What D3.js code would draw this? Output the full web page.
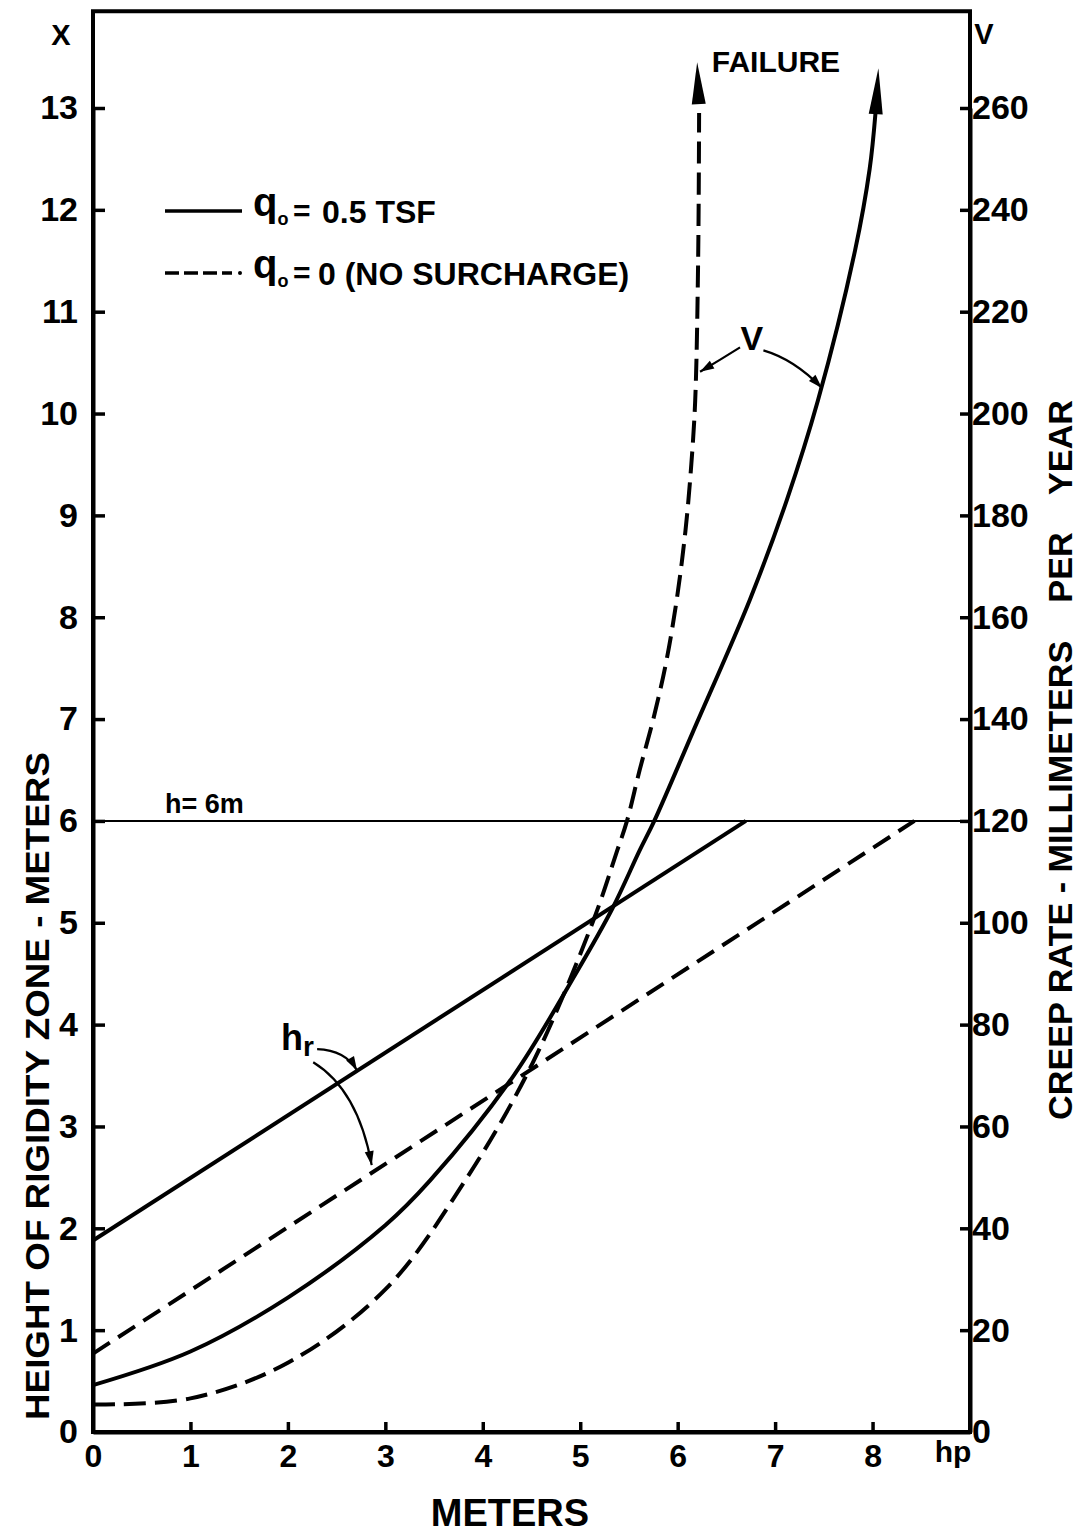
<!DOCTYPE html>
<html>
<head>
<meta charset="utf-8">
<script src="https://cdn.jsdelivr.net/npm/d3@7"></script>
<style>
body { margin: 0; background: #fff; }
text { font-family: "Liberation Sans", Arial, sans-serif; font-weight: bold; fill: #000; }
</style>
</head>
<body>
<svg id="chart"></svg>
<script>
// tick labels
var hpTicks = [0, 1, 2, 3, 4, 5, 6, 7, 8];
var xTicks = [0, 1, 2, 3, 4, 5, 6, 7, 8, 9, 10, 11, 12, 13];
var vTicks = [0, 20, 40, 60, 80, 100, 120, 140, 160, 180, 200, 220, 240, 260];

// creep rate curves (read in left-axis units, V = 20 * X)
var solidVx = [0, 1, 2, 3, 3.46, 4.31, 4.96, 5.33, 5.61, 5.76, 6.15, 6.74, 7.12, 7.44, 7.82, 7.97, 8.03];
var solidVy = [0.46, 0.79, 1.32, 2.03, 2.47, 3.49, 4.51, 5.14, 5.71, 6.0, 6.86, 8.17, 9.15, 10.13, 11.6, 12.4, 12.95];
var dashVx = [0, 1, 2, 3, 3.82, 4.51, 5.13, 5.38, 5.48, 5.61, 5.75, 5.88, 5.99, 6.08, 6.14, 6.18, 6.21, 6.22];
var dashVy = [0.27, 0.33, 0.68, 1.40, 2.47, 3.62, 5.01, 5.71, 6.0, 6.5, 7.0, 7.55, 8.17, 8.85, 9.5, 10.13, 11.5, 12.95];

// height of rigidity zone lines
var solidHrX = [0, 6.7];
var solidHrY = [1.88, 6.0];
var dashHrX = [0, 8.43];
var dashHrY = [0.77, 6.0];

var hLimit = 6;

var width = 1088,
    height = 1535;

var svg = d3.select("#chart").attr("width", width).attr("height", height);

var x = d3.scaleLinear().domain([0, 9]).range([93, 970]);
var y = d3.scaleLinear().domain([0, 13]).range([1432, 108]);
var v = d3.scaleLinear().domain([0, 260]).range([1432, 108]);

// frame
svg.append("rect")
	.attr("x", x(0)).attr("y", y(13.95))
	.attr("width", x(9) - x(0)).attr("height", y(0) - y(13.95))
	.attr("fill", "none").attr("stroke", "#000").attr("stroke-width", 4);

// axes
var left = svg.append("g").attr("transform", "translate(" + x(0) + ",0)")
	.call(d3.axisLeft(y).tickValues(xTicks).tickSizeInner(-12).tickSizeOuter(0).tickPadding(15));
var right = svg.append("g").attr("transform", "translate(" + x(9) + ",0)")
	.call(d3.axisRight(v).tickValues(vTicks).tickSizeInner(-10).tickSizeOuter(0).tickPadding(2));
var bottom = svg.append("g").attr("transform", "translate(0," + y(0) + ")")
	.call(d3.axisBottom(x).tickValues(hpTicks).tickSizeInner(-10).tickSizeOuter(0).tickPadding(12));

[left, right, bottom].forEach(function(g) {
	g.select(".domain").attr("stroke-width", 4);
	g.selectAll(".tick line").attr("stroke-width", 3.5);
	g.selectAll(".tick text").style("font-family", "'Liberation Sans', Arial, sans-serif").style("font-weight", "bold");
});
left.selectAll(".tick text").style("font-size", "34px");
right.selectAll(".tick text").style("font-size", "34px");
bottom.selectAll(".tick text").style("font-size", "32px");
left.selectAll(".tick").filter(function(d) { return d == 0; }).select("line").remove();
right.selectAll(".tick").filter(function(d) { return d == 0; }).select("line").remove();
bottom.selectAll(".tick").filter(function(d) { return d == 0; }).select("line").remove();

// axis letters
svg.append("text").text("X").attr("x", 61).attr("y", 45).attr("text-anchor", "middle").style("font-size", "29px");
svg.append("text").text("V").attr("x", 984).attr("y", 44).attr("text-anchor", "middle").style("font-size", "29px");
svg.append("text").text("hp").attr("x", 953).attr("y", 1462).attr("text-anchor", "middle").style("font-size", "30px");
svg.append("text").text("METERS").attr("x", 510).attr("y", 1526).attr("text-anchor", "middle").style("font-size", "38px");

svg.append("text").text("HEIGHT OF RIGIDITY ZONE - METERS")
	.attr("transform", "translate(49,1086) rotate(-90)")
	.attr("text-anchor", "middle").attr("textLength", 668).attr("lengthAdjust", "spacingAndGlyphs")
	.style("font-size", "33px");
svg.append("text").text("CREEP RATE - MILLIMETERS    PER    YEAR")
	.attr("transform", "translate(1072,760) rotate(-90)")
	.attr("text-anchor", "middle").attr("textLength", 720).attr("lengthAdjust", "spacingAndGlyphs")
	.style("white-space", "pre").style("font-size", "33px");

// h = 6m
svg.append("line")
	.attr("x1", x(0)).attr("x2", x(9)).attr("y1", y(hLimit)).attr("y2", y(hLimit))
	.attr("stroke", "#000").attr("stroke-width", 2);
svg.append("text").text("h= 6m").attr("x", x(0.74)).attr("y", y(hLimit) - 8).style("font-size", "27px");

function pts(xs, ys) {
	return xs.map(function(d, i) { return [x(d), y(ys[i])]; });
}

var line = d3.line().curve(d3.curveCatmullRom.alpha(0.5));

svg.append("path").attr("d", line(pts(solidHrX, solidHrY)))
	.attr("fill", "none").attr("stroke", "#000").attr("stroke-width", 4);
svg.append("path").attr("d", line(pts(dashHrX, dashHrY)))
	.attr("fill", "none").attr("stroke", "#000").attr("stroke-width", 4).attr("stroke-dasharray", "20,10");
svg.append("path").attr("d", line(pts(solidVx, solidVy)))
	.attr("fill", "none").attr("stroke", "#000").attr("stroke-width", 4);
svg.append("path").attr("d", line(pts(dashVx, dashVy)))
	.attr("fill", "none").attr("stroke", "#000").attr("stroke-width", 4).attr("stroke-dasharray", "22,9");

// arrow head: tip and a point behind it give the direction
function head(tip, from, len, half) {
	var dx = tip[0] - from[0], dy = tip[1] - from[1];
	var l = Math.sqrt(dx * dx + dy * dy);
	dx /= l; dy /= l;
	var bx = tip[0] - dx * len, by = tip[1] - dy * len;
	svg.append("path")
		.attr("d", "M" + tip[0] + "," + tip[1] + "L" + (bx - dy * half) + "," + (by + dx * half) +
			"L" + (bx + dy * half) + "," + (by - dx * half) + "Z")
		.attr("fill", "#000");
}

// failure arrows
head([x(8.06), y(13.39)], [x(8.03), y(12.9)], 46, 7);
head([x(6.20), y(13.45)], [x(6.22), y(12.95)], 42, 7);
svg.append("text").text("FAILURE").attr("x", x(6.35)).attr("y", y(13.35)).style("font-size", "30px");

// annotation arrows
var curve = function(a, c, b) {
	return "M" + x(a[0]) + "," + y(a[1]) + "Q" + x(c[0]) + "," + y(c[1]) + " " + x(b[0]) + "," + y(b[1]);
};
function annot(a, c, b) {
	svg.append("path").attr("d", curve(a, c, b)).attr("fill", "none").attr("stroke", "#000").attr("stroke-width", 2.2);
	head([x(b[0]), y(b[1])], [x(c[0]), y(c[1])], 14, 4.5);
}
annot([2.30, 3.76], [2.59, 3.75], [2.71, 3.55]);
annot([2.26, 3.63], [2.72, 3.36], [2.86, 2.62]);
annot([6.64, 10.65], [6.44, 10.53], [6.23, 10.41]);
annot([6.88, 10.62], [7.20, 10.53], [7.48, 10.25]);

var hr = svg.append("text").attr("x", x(1.93)).attr("y", y(3.75)).style("font-size", "36px");
hr.append("tspan").text("h");
hr.append("tspan").text("r").attr("dy", 6).style("font-size", "28px");
svg.append("text").text("V").attr("x", x(6.76)).attr("y", y(10.62)).attr("text-anchor", "middle").style("font-size", "34px");

// legend
var lg = svg.append("g");
lg.append("line").attr("x1", 165).attr("x2", 242).attr("y1", 211).attr("y2", 211).attr("stroke", "#000").attr("stroke-width", 3.5);
lg.append("line").attr("x1", 165).attr("x2", 232).attr("y1", 273).attr("y2", 273).attr("stroke", "#000").attr("stroke-width", 3.5).attr("stroke-dasharray", "14,5");
lg.append("circle").attr("cx", 240).attr("cy", 273).attr("r", 2).attr("fill", "#000");
[["0.5 TSF", 211, 322], ["0 (NO SURCHARGE)", 273, 318]].forEach(function(d) {
	var t = lg.append("text").attr("x", 253).attr("y", d[1] + 5).style("font-size", "40px");
	t.append("tspan").text("q");
	t.append("tspan").text("o").attr("dy", 9).style("font-size", "18px");
	lg.append("text").text("=").attr("x", 293).attr("y", d[1] + 10).style("font-size", "30px");
	lg.append("text").text(d[0]).attr("x", d[2]).attr("y", d[1] + 12).style("font-size", "32px");
});
</script>
</body>
</html>
